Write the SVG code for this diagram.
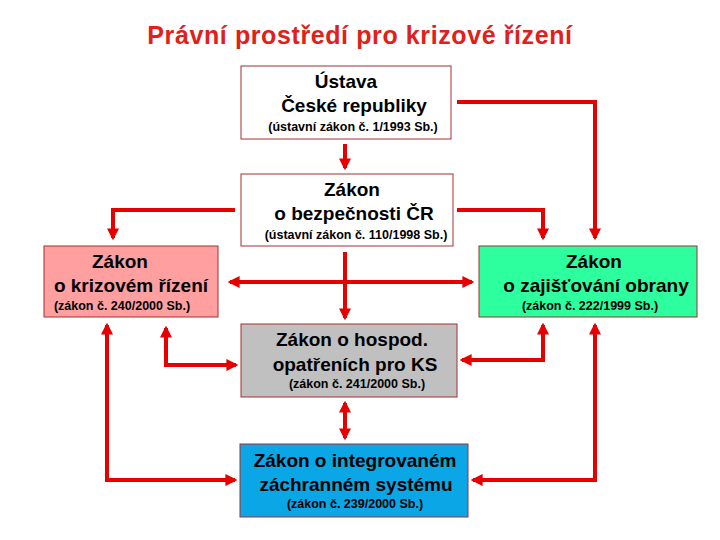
<svg xmlns="http://www.w3.org/2000/svg" width="720" height="540" viewBox="0 0 720 540">
<style>
text{font-family:"Liberation Sans",Arial,sans-serif;text-anchor:middle;fill:#000}
.b{font-size:19px;font-weight:bold}
.s{font-size:12.5px;font-weight:bold}
.box{stroke:#a03030;stroke-width:1}
.c{fill:none;stroke:#e60000;stroke-width:4}
</style>
<defs>
<marker id="a" viewBox="0 0 10 10" refX="8" refY="5" markerWidth="3" markerHeight="3" orient="auto-start-reverse"><path d="M0,0L10,5L0,10z" fill="#e60000"/></marker>
</defs>
<text x="360" y="44" style="font-size:25px;font-weight:bold;fill:#e0201a;letter-spacing:0.6px">Právní prostředí pro krizové řízení</text>
<g id="n1"><rect class="box" x="241" y="66" width="210" height="73" fill="#fff"/><text class="b" x="346" y="88">Ústava</text><text class="b" x="354" y="112">České republiky</text><text class="s" x="353" y="131">(ústavní zákon č. 1/1993 Sb.)</text></g>
<g id="n2"><rect class="box" x="241" y="174" width="212" height="72" fill="#fff"/><text class="b" x="352" y="196">Zákon</text><text class="b" x="354" y="220">o bezpečnosti ČR</text><text class="s" x="356" y="239">(ústavní zákon č. 110/1998 Sb.)</text></g>
<g id="n3"><rect class="box" x="44" y="246" width="174" height="71" fill="#ff9f9f"/><text class="b" x="120" y="268">Zákon</text><text class="b" x="131" y="292">o krizovém řízení</text><text class="s" x="122" y="310">(zákon č. 240/2000 Sb.)</text></g>
<g id="n4"><rect class="box" x="479" y="246" width="218" height="71" fill="#2eff9e"/><text class="b" x="594" y="268">Zákon</text><text class="b" x="596" y="292">o zajišťování obrany</text><text class="s" x="590" y="310">(zákon č. 222/1999 Sb.)</text></g>
<g id="n5"><rect class="box" x="241" y="324" width="216" height="73" fill="#c0c0c0"/><text class="b" x="352" y="346">Zákon o hospod.</text><text class="b" x="355" y="371">opatřeních pro KS</text><text class="s" x="357" y="388">(zákon č. 241/2000 Sb.)</text></g>
<g id="n6"><rect class="box" x="240" y="444" width="228" height="73" fill="#0aa6e6"/><text class="b" x="355" y="467">Zákon o integrovaném</text><text class="b" x="356" y="491">záchranném systému</text><text class="s" x="355" y="508">(zákon č. 239/2000 Sb.)</text></g>
<g id="connectors">
<path class="c" d="M345,144V168" marker-end="url(#a)"/>
<path class="c" d="M457,102H595V238" marker-end="url(#a)"/>
<path class="c" d="M235,210H113V238" marker-end="url(#a)"/>
<path class="c" d="M457,210H543V238" marker-end="url(#a)"/>
<path class="c" d="M345,252V318" marker-end="url(#a)"/>
<path class="c" d="M230,282H472" marker-start="url(#a)" marker-end="url(#a)"/>
<path class="c" d="M235,480H107V325" marker-start="url(#a)" marker-end="url(#a)"/>
<path class="c" d="M236,365H166V328" marker-start="url(#a)" marker-end="url(#a)"/>
<path class="c" d="M462,360H543V325" marker-start="url(#a)" marker-end="url(#a)"/>
<path class="c" d="M473,480H595V325" marker-start="url(#a)" marker-end="url(#a)"/>
<path class="c" d="M345,403V438" marker-start="url(#a)" marker-end="url(#a)"/>
</g>
</svg>
